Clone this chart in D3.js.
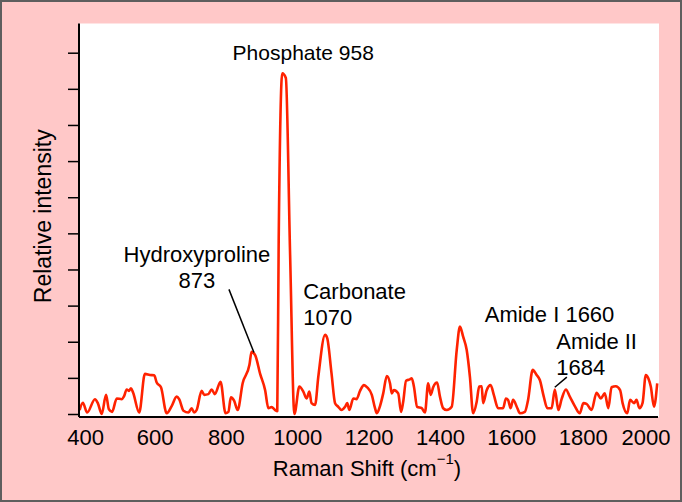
<!DOCTYPE html>
<html>
<head>
<meta charset="utf-8">
<script src="https://cdn.jsdelivr.net/npm/d3@7"></script>
<style>
  html, body { margin: 0; padding: 0; background: #ffc8c8; }
  svg { display: block; }
  text { font-family: "Liberation Sans", Arial, Helvetica, sans-serif; fill: #000; }
</style>
</head>
<body>
<svg id="chart" width="682" height="502"></svg>
<script>
// ---- Data ----
const ramanShift = [390, 399, 411, 433, 441, 452, 464, 472, 481, 494, 508, 514, 522, 528, 534, 540, 557, 573, 587, 599,
  606, 618, 634, 648, 662, 669, 681, 695, 704, 711, 718, 732, 739, 751, 760, 769, 785, 799, 807, 814,
  823, 833, 847, 866, 872, 882, 896, 910, 919, 928, 938, 944, 948, 958, 968, 980, 992, 1006, 1017, 1026,
  1034, 1040, 1050, 1059, 1078, 1084, 1096, 1106, 1115, 1124, 1134, 1140, 1146, 1157, 1166, 1176, 1187, 1196, 1209, 1218,
  1223, 1232, 1241, 1251, 1260, 1265, 1271, 1283, 1291, 1297, 1305, 1316, 1321, 1327, 1336, 1349, 1358, 1367, 1374, 1381,
  1392, 1400, 1409, 1419, 1433, 1447, 1456, 1465, 1475, 1484, 1493, 1503, 1510, 1517, 1521, 1531, 1542, 1551, 1563, 1577,
  1585, 1591, 1598, 1605, 1617, 1624, 1638, 1647, 1660, 1671, 1680, 1691, 1701, 1713, 1722, 1732, 1741, 1753, 1764, 1778,
  1792, 1802, 1811, 1825, 1839, 1851, 1862, 1872, 1881, 1893, 1905, 1912, 1925, 1933, 1944, 1951, 1959, 1968, 1977, 1984,
  1991, 2000, 2009];
const intensity = [0.11, 0.31, 0.04, 0.41, 0.30, 0.00, 0.53, 0.13, 0.06, 0.43, 0.41, 0.48, 0.68, 0.64, 0.71, 0.59, 0.04, 1.11, 1.08, 1.07,
  0.87, 0.74, 0.02, 0.22, 0.48, 0.41, 0.09, 0.04, 0.16, 0.04, 0.11, 0.64, 0.53, 0.55, 0.68, 0.55, 0.89, 0.02, 0.06, 0.46,
  0.37, 0.11, 0.85, 1.36, 1.72, 1.63, 1.11, 0.66, 0.16, 0.19, 0.11, 0.08, 4.82, 9.43, 9.30, 4.40, 0.00, 0.76, 0.62, 0.43,
  0.62, 0.30, 0.25, 1.03, 2.19, 2.10, 1.13, 0.30, 0.20, 0.11, 0.20, 0.30, 0.11, 0.43, 0.41, 0.64, 0.80, 0.74, 0.53, 0.16,
  0.02, 0.22, 0.57, 1.05, 0.85, 0.57, 0.66, 0.57, 0.06, 0.34, 0.92, 0.96, 0.99, 0.76, 0.20, 0.16, 0.04, 0.85, 0.53, 0.74,
  0.87, 0.48, 0.16, 0.11, 0.20, 1.77, 2.42, 2.14, 1.77, 1.03, 0.02, 0.34, 0.76, 0.77, 0.30, 0.66, 0.80, 0.53, 0.16, 0.16,
  0.43, 0.39, 0.16, 0.39, 0.16, 0.02, 0.06, 0.39, 1.22, 1.08, 0.94, 0.48, 0.16, 0.16, 0.68, 0.11, 0.41, 0.68, 0.48, 0.22,
  0.02, 0.30, 0.28, 0.11, 0.59, 0.43, 0.57, 0.16, 0.74, 0.77, 0.66, 0.30, 0.02, 0.39, 0.30, 0.39, 0.16, 0.31, 1.08, 0.99,
  0.76, 0.20, 0.85];
const xTickLabels = [400, 600, 800, 1000, 1200, 1400, 1600, 1800, 2000];
const yTickValues = [0, 1, 2, 3, 4, 5, 6, 7, 8, 9, 10];
const xTitle = "Raman Shift (cm";
const xTitleSup = "\u22121";
const yTitle = "Relative intensity";
const annotationLabels = [
  { lines: ["Phosphate 958"], at: 958 },
  { lines: ["Hydroxyproline", "873"], at: 873 },
  { lines: ["Carbonate", "1070"], at: 1070 },
  { lines: ["Amide I 1660"], at: 1660 },
  { lines: ["Amide II", "1684"], at: 1684 }
];

// ---- Layout ----
const W = 682, H = 502;
const frame = { left: 79, right: 659, top: 23.5, bottom: 417 };
const FONT = 22;

const svg = d3.select("#chart");

// background + outer border
svg.append("rect")
  .attr("x", 1).attr("y", 1).attr("width", W - 2).attr("height", H - 2)
  .attr("fill", "#ffc8c8").attr("stroke", "#5e5e5e").attr("stroke-width", 2);

// plot area
svg.append("rect")
  .attr("x", frame.left).attr("y", frame.top)
  .attr("width", frame.right - frame.left).attr("height", frame.bottom - frame.top)
  .attr("fill", "#ffffff");

// scales
const x = d3.scaleLinear().domain([400, 2000]).range([83.2, 654]);
const y = d3.scaleLinear().domain([0, 10]).range([414, 52.7]);

// clip
svg.append("clipPath").attr("id", "plotclip")
  .append("rect")
  .attr("x", frame.left).attr("y", frame.top)
  .attr("width", frame.right - frame.left).attr("height", frame.bottom - frame.top);

// spectrum line
const pts = ramanShift.map((v, i) => [v, intensity[i]]);
const line = d3.line()
  .x(d => x(d[0]))
  .y(d => y(d[1]))
  .curve(d3.curveMonotoneX);

svg.append("path")
  .datum(pts)
  .attr("clip-path", "url(#plotclip)")
  .attr("d", line)
  .attr("fill", "none")
  .attr("stroke", "#ff2200")
  .attr("stroke-width", 2.6)
  .attr("stroke-linejoin", "round");

// y axis ticks (no labels)
const yAxis = d3.axisLeft(y).tickValues(yTickValues).tickSize(11).tickFormat("");
const gy = svg.append("g").attr("transform", `translate(${frame.left},0)`).call(yAxis);
gy.select(".domain").remove();
gy.selectAll(".tick line").attr("stroke", "#000").attr("stroke-width", 1.5);

// frame axis lines
svg.append("line")
  .attr("x1", frame.left).attr("x2", frame.left)
  .attr("y1", frame.top).attr("y2", frame.bottom)
  .attr("stroke", "#000").attr("stroke-width", 2);
svg.append("line")
  .attr("x1", frame.left).attr("x2", frame.right - 1)
  .attr("y1", frame.bottom).attr("y2", frame.bottom)
  .attr("stroke", "#000").attr("stroke-width", 2);

// x axis labels (no tick marks)
const xAxis = d3.axisBottom(x).tickValues(xTickLabels).tickSize(0).tickPadding(12).tickFormat(d3.format("d"));
const gx = svg.append("g").attr("transform", `translate(0,${frame.bottom})`).call(xAxis);
gx.select(".domain").remove();
gx.selectAll(".tick text")
  .attr("font-size", FONT)
  .attr("font-family", "Liberation Sans, Arial, sans-serif")
  .attr("fill", "#000")
  .attr("dx", d => d === 400 ? 2 : (d === 2000 ? -8.5 : 0));

// x title
const xt = svg.append("text")
  .attr("x", (frame.left + frame.right) / 2 - 2)
  .attr("y", 476)
  .attr("text-anchor", "middle")
  .attr("font-size", FONT);
xt.append("tspan").text(xTitle);
xt.append("tspan").attr("dy", -12).attr("font-size", 15).text(xTitleSup);
xt.append("tspan").attr("dy", 12).text(")");

// y title
svg.append("text")
  .attr("transform", `translate(51,${(frame.top + frame.bottom) / 2 - 4}) rotate(-90)`)
  .attr("text-anchor", "middle")
  .attr("font-size", 23)
  .text(yTitle);

// annotations
const ann = svg.append("g").attr("font-size", FONT);
function addText(lines, xPos, yBase, anchor, size) {
  const t = ann.append("text").attr("text-anchor", anchor);
  if (size) t.attr("font-size", size);
  lines.forEach((s, i) => {
    t.append("tspan").attr("x", xPos).attr("y", yBase + i * 26.7).text(s);
  });
}
// Phosphate 958
addText(annotationLabels[0].lines, x(annotationLabels[0].at) + 21, 60, "middle", 21);
// Hydroxyproline 873
addText(annotationLabels[1].lines, x(annotationLabels[1].at) - 55, 261.5, "middle");
ann.append("line")
  .attr("x1", x(annotationLabels[1].at) - 23).attr("y1", y(3.45))
  .attr("x2", x(annotationLabels[1].at) + 2).attr("y2", y(1.70))
  .attr("stroke", "#000").attr("stroke-width", 1.5);
// Carbonate 1070
addText(annotationLabels[2].lines, x(annotationLabels[2].at) - 19, 298.5, "start");
// Amide I 1660
addText(annotationLabels[3].lines, x(annotationLabels[3].at) - 48, 321.5, "start");
// Amide II 1684
addText(annotationLabels[4].lines, x(annotationLabels[4].at) + 15, 348.5, "start");
ann.append("line")
  .attr("x1", x(1722) + 12).attr("y1", y(1.02))
  .attr("x2", x(1722)).attr("y2", y(0.74))
  .attr("stroke", "#000").attr("stroke-width", 1.5);
</script>
</body>
</html>
